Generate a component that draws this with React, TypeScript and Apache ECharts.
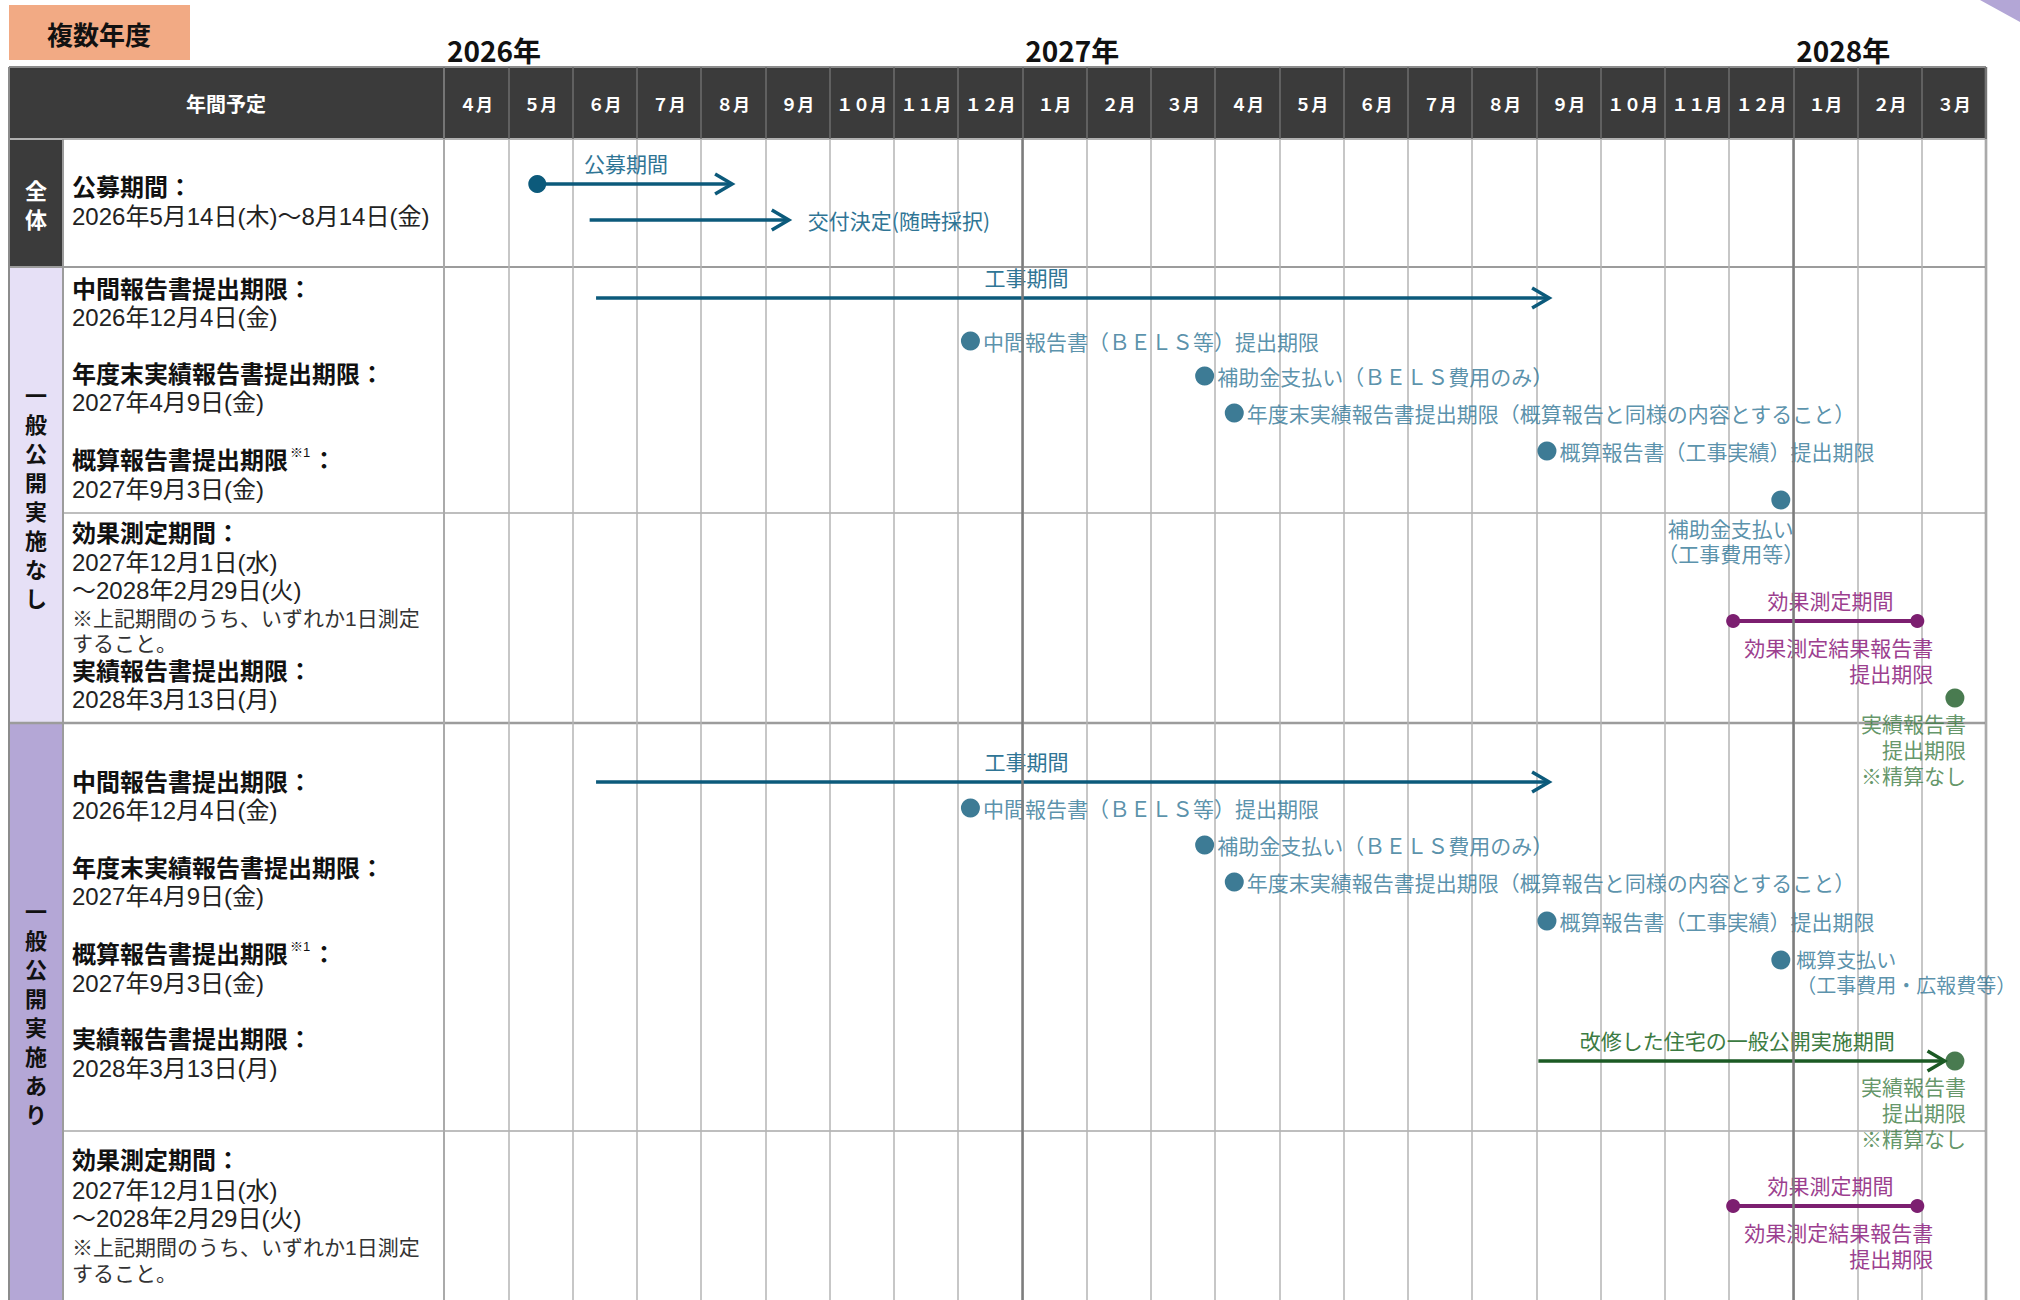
import React, { useEffect, useRef } from "react";
import * as echarts from "echarts";

const FONT = '"Noto Sans CJK JP", "Noto Sans", sans-serif';
const NOTE_FONT = '"Liberation Sans", "Noto Sans CJK JP", sans-serif';

// ---------------- data ----------------
const MONTH_LABELS = [
  "４月", "５月", "６月", "７月", "８月", "９月", "１０月", "１１月", "１２月",
  "１月", "２月", "３月", "４月", "５月", "６月", "７月", "８月", "９月", "１０月", "１１月", "１２月",
  "１月", "２月", "３月",
];
const YEAR_LABELS = ["2026年", "2027年", "2028年"];
const YEAR_STARTS = ["2026-04-01", "2027-01-01", "2028-01-01"];

// lane = vertical position in the schedule area (px below the header)
const TEAL_SPANS = [
  { text: "公募期間", start: "2026-05-15", end: "2026-08-16", lane: 45, head: "dot", label: "above", labelAt: "2026-06-26" },
  { text: "交付決定(随時採択)", start: "2026-06-09", end: "2026-09-12", lane: 81, head: "none", label: "after", labelAt: "" },
  { text: "工事期間", start: "2026-06-12", end: "2027-09-07", lane: 159, head: "none", label: "above", labelAt: "2027-01-03" },
  { text: "工事期間", start: "2026-06-12", end: "2027-09-07", lane: 643, head: "none", label: "above", labelAt: "2027-01-03" },
];
const PURPLE_SPANS = [
  { text: "効果測定期間", note: "効果測定結果報告書\n提出期限", start: "2027-12-03", end: "2028-02-28", lane: 482, labelAt: "2028-01-19" },
  { text: "効果測定期間", note: "効果測定結果報告書\n提出期限", start: "2027-12-03", end: "2028-02-28", lane: 1067, labelAt: "2028-01-19" },
];
const GREEN_SPANS = [
  { text: "改修した住宅の一般公開実施期間", start: "2027-09-02", end: "2028-03-12", lane: 922, labelAt: "2027-12-05" },
];
const TEAL_POINTS = [
  { text: "中間報告書（ＢＥＬＳ等）提出期限", date: "2026-12-07", lane: 202, mode: "right" },
  { text: "補助金支払い（ＢＥＬＳ費用のみ）", date: "2027-03-27", lane: 237, mode: "right" },
  { text: "年度末実績報告書提出期限（概算報告と同様の内容とすること）", date: "2027-04-10", lane: 274, mode: "right" },
  { text: "概算報告書（工事実績）提出期限", date: "2027-09-06", lane: 312, mode: "right" },
  { text: "補助金支払い\n（工事費用等）", date: "2027-12-26", lane: 361, mode: "below" },
  { text: "中間報告書（ＢＥＬＳ等）提出期限", date: "2026-12-07", lane: 669, mode: "right" },
  { text: "補助金支払い（ＢＥＬＳ費用のみ）", date: "2027-03-27", lane: 706, mode: "right" },
  { text: "年度末実績報告書提出期限（概算報告と同様の内容とすること）", date: "2027-04-10", lane: 743, mode: "right" },
  { text: "概算報告書（工事実績）提出期限", date: "2027-09-06", lane: 782, mode: "right" },
  { text: "概算支払い\n（工事費用・広報費等）", date: "2027-12-26", lane: 821, mode: "rightTop" },
];
const GREEN_POINTS = [
  { text: "実績報告書\n提出期限\n※精算なし", date: "2028-03-17", lane: 559, mode: "belowRight" },
  { text: "実績報告書\n提出期限\n※精算なし", date: "2028-03-17", lane: 922, mode: "belowRight" },
];

const NOTES_OVERALL = ["公募期間：", "2026年5月14日(木)～8月14日(金)"];
const NOTES_NONE_A = ["中間報告書提出期限：", "2026年12月4日(金)", "年度末実績報告書提出期限：", "2027年4月9日(金)", "概算報告書提出期限※1：", "2027年9月3日(金)"];
const NOTES_NONE_B = ["効果測定期間：", "2027年12月1日(水)", "～2028年2月29日(火)", "※上記期間のうち、いずれか1日測定", "すること。", "実績報告書提出期限：", "2028年3月13日(月)"];
const NOTES_WITH_A = ["中間報告書提出期限：", "2026年12月4日(金)", "年度末実績報告書提出期限：", "2027年4月9日(金)", "概算報告書提出期限※1：", "2027年9月3日(金)", "実績報告書提出期限：", "2028年3月13日(月)"];
const NOTES_WITH_B = ["効果測定期間：", "2027年12月1日(水)", "～2028年2月29日(火)", "※上記期間のうち、いずれか1日測定", "すること。"];

// ---------------- helpers ----------------
function mi(d: string): number {
  const [y, m, dd] = d.split("-").map(Number);
  const days = new Date(y, m, 0).getDate();
  return (y - 2026) * 12 + (m - 4) + (dd - 1) / days;
}

const TEAL = "#0c5a7b", TEAL_TXT = "#2f7595";
const PURPLE = "#7c1f70", PURPLE_TXT = "#9c3f8f";
const GREEN = "#1b5a24", GREEN_TXT = "#3c7b42";

function txtStyle(text: string, size: number, color: string, weight: string, align: string, valign: string, lineHeight?: number, family = FONT) {
  return {
    text, fill: color, fontSize: size, fontWeight: weight, fontFamily: family,
    align, verticalAlign: valign, textAlign: align, textVerticalAlign: valign,
    lineHeight: lineHeight || size,
  };
}

function gText(x: number, y: number, text: string, size: number, color: string, weight = "normal", align = "left", valign = "middle", lineHeight?: number, family = FONT) {
  return { type: "text", x, y, silent: true, style: txtStyle(text, size, color, weight, align, valign, lineHeight, family) };
}
function gRect(x: number, y: number, w: number, h: number, fill: string) {
  return { type: "rect", silent: true, shape: { x, y, width: w, height: h }, style: { fill } };
}
function gLine(x1: number, y1: number, x2: number, y2: number, stroke: string, w: number) {
  return { type: "line", silent: true, shape: { x1, y1, x2, y2 }, style: { stroke, lineWidth: w } };
}

function noteElements(lines: string[], ys: number[]) {
  const out: any[] = [];
  const X = 72;
  lines.forEach((t, i) => {
    const y = ys[i];
    if (t.includes("※1")) {
      const [a, b] = t.split("※1");
      const w = a.length * 24;
      out.push(gText(X, y, a, 24, "#111", "bold", "left", "middle", 24, NOTE_FONT));
      out.push(gText(X + w + 2, y - 8, "※1", 13, "#111", "normal", "left", "middle", 13, NOTE_FONT));
      out.push(gText(X + w + 24, y, b, 24, "#111", "bold", "left", "middle", 24, NOTE_FONT));
    } else if (t.endsWith("：")) {
      out.push(gText(X, y, t, 24, "#111", "bold", "left", "middle", 24, NOTE_FONT));
    } else if (t.startsWith("※") || t === "すること。") {
      out.push(gText(X, y, t, 21, "#333", "normal", "left", "middle", 21, NOTE_FONT));
    } else {
      out.push(gText(X, y, t, 24, "#222", "normal", "left", "middle", 24, NOTE_FONT));
    }
  });
  return out;
}

function spanRenderer(spans: any[], color: string, textColor: string, kind: string) {
  return (params: any, api: any) => {
    const s = spans[params.dataIndex];
    const a = api.coord([api.value(0), api.value(2)]);
    const b = api.coord([api.value(1), api.value(2)]);
    const children: any[] = [];
    const lw = kind === "purple" ? 4 : 3.5;
    children.push({ type: "line", shape: { x1: a[0], y1: a[1], x2: b[0] - (kind === "purple" ? 0 : 1), y2: b[1] }, style: { stroke: color, lineWidth: lw } });
    if (kind === "purple") {
      children.push({ type: "circle", shape: { cx: a[0], cy: a[1], r: 7 }, style: { fill: color } });
      children.push({ type: "circle", shape: { cx: b[0], cy: b[1], r: 7 }, style: { fill: color } });
    } else {
      children.push({
        type: "polyline",
        shape: { points: [[b[0] - 17, b[1] - 10], [b[0], b[1]], [b[0] - 17, b[1] + 10]] },
        style: { stroke: color, lineWidth: lw, fill: "none", lineJoin: "miter" },
      });
      if (s.head === "dot") {
        children.push({ type: "circle", shape: { cx: a[0], cy: a[1], r: 9 }, style: { fill: color } });
      }
    }
    if (s.label === "after") {
      children.push({ type: "text", x: b[0] + 19, y: b[1], style: txtStyle(s.text, 21, textColor, "normal", "left", "middle") });
    } else {
      const lx = api.coord([mi(s.labelAt), api.value(2)])[0];
      children.push({ type: "text", x: lx, y: a[1] - 21, style: txtStyle(s.text, 21, textColor, "normal", "center", "middle") });
    }
    if (s.note) {
      children.push({ type: "text", x: b[0] + 16, y: b[1] + 14, style: txtStyle(s.note, 21, textColor, "normal", "right", "top", 26, NOTE_FONT) });
    }
    return { type: "group", children };
  };
}

function pointLabel(p: any, color: string) {
  const base: any = { show: true, formatter: p.text, color, fontSize: 21, fontFamily: FONT, lineHeight: 26 };
  switch (p.mode) {
    case "rightTop":
      return { ...base, fontFamily: NOTE_FONT, position: "right", distance: 6, fontSize: 20, lineHeight: 25, verticalAlign: "top", offset: [0, -12] };
    case "below":
      return { ...base, fontFamily: NOTE_FONT, position: "bottom", distance: 7, align: "center", lineHeight: 25, offset: [-50, 0] };
    case "belowRight":
      return { ...base, fontFamily: NOTE_FONT, position: "bottom", distance: 4, align: "right", offset: [11, 0] };
    default:
      return { ...base, position: "right", distance: 3, lineHeight: 21 };
  }
}

function buildOption() {
  const graphic: any[] = [];
  // top-left tag
  graphic.push(gRect(9, 5, 181, 55, "#f2aa84"));
  graphic.push(gText(99, 33, "複数年度", 26, "#111", "bold", "center", "middle"));
  // corner decoration
  graphic.push({ type: "polygon", silent: true, shape: { points: [[1980, 0], [2020, 0], [2020, 22]] }, style: { fill: "#b3a6d6" } });
  // header
  graphic.push(gRect(9, 67, 1977, 72, "#3b3b3b"));
  graphic.push(gText(226, 103, "年間予定", 20, "#ffffff", "bold", "center", "middle"));
  // group column backgrounds
  graphic.push(gRect(9, 139, 54, 128, "#3b3b3b"));
  graphic.push(gRect(9, 267, 54, 456, "#e6e0f6"));
  graphic.push(gRect(9, 723, 54, 577, "#b4a7d6"));
  graphic.push(gText(36, 203, "全\n体", 22, "#ffffff", "bold", "center", "middle", 29));
  graphic.push(gText(36, 495, "一\n般\n公\n開\n実\n施\nな\nし", 22, "#111", "bold", "center", "middle", 29));
  graphic.push(gText(36, 1011, "一\n般\n公\n開\n実\n施\nあ\nり", 22, "#111", "bold", "center", "middle", 29));
  // table lines
  graphic.push(gLine(9, 67, 1986, 67, "#8c8c8c", 2));
  graphic.push(gLine(9, 139, 1986, 139, "#b0b0b0", 2));
  graphic.push(gLine(9, 267, 1986, 267, "#9c9c9c", 2));
  graphic.push(gLine(63, 513, 1986, 513, "#a8a8a8", 1.5));
  graphic.push(gLine(9, 723, 1986, 723, "#9c9c9c", 2.5));
  graphic.push(gLine(63, 1131, 1986, 1131, "#a8a8a8", 1.5));
  graphic.push(gLine(9, 67, 9, 1300, "#8c8c8c", 2));
  graphic.push(gLine(1986, 67, 1986, 1300, "#8c8c8c", 2.5));
  graphic.push(gLine(63, 139, 63, 1300, "#9c9c9c", 2));
  graphic.push(gLine(444, 67, 444, 1300, "#8c8c8c", 2));
  // notes
  graphic.push(...noteElements(NOTES_OVERALL, [187, 216]));
  graphic.push(...noteElements(NOTES_NONE_A, [289, 317, 374, 402, 460, 489]));
  graphic.push(...noteElements(NOTES_NONE_B, [533, 562, 590, 618, 643, 671, 699]));
  graphic.push(...noteElements(NOTES_WITH_A, [782, 810, 868, 896, 954, 983, 1039, 1068]));
  graphic.push(...noteElements(NOTES_WITH_B, [1160, 1190, 1218, 1247, 1273]));

  const spanData = (arr: any[]) => arr.map((s) => [mi(s.start), mi(s.end), s.lane]);

  return {
    animation: false,
    backgroundColor: "#ffffff",
    grid: { left: 444, top: 139, width: 1542, height: 1161, containLabel: false },
    xAxis: [
      {
        type: "value", min: 0, max: 24, interval: 1, position: "bottom",
        axisLine: { show: false }, axisTick: { show: false }, axisLabel: { show: false },
        splitLine: { show: true, lineStyle: { color: "#b4b4b4", width: 1.5 } },
      },
      {
        type: "category", data: MONTH_LABELS, position: "top", boundaryGap: true, z: 10,
        axisLine: { show: false },
        axisTick: { show: true, length: 72, interval: 0, lineStyle: { color: "#6e6e6e", width: 1.5 } },
        axisLabel: { color: "#ffffff", fontWeight: "bold", fontSize: 17, fontFamily: FONT, margin: 36, verticalAlign: "middle", interval: 0 },
        splitLine: { show: false },
      },
    ],
    yAxis: { type: "value", min: 0, max: 1161, inverse: true, show: false },
    graphic: { elements: graphic },
    series: [
      {
        type: "custom", name: "years", coordinateSystem: "cartesian2d", xAxisIndex: 0, yAxisIndex: 0, clip: false, z: 5,
        data: YEAR_STARTS.map((d) => [mi(d), 0]),
        renderItem: (params: any, api: any) => {
          const p = api.coord([api.value(0), api.value(1)]);
          return { type: "text", x: p[0] + 3, y: p[1] - 89, style: txtStyle(YEAR_LABELS[params.dataIndex], 28, "#111", "bold", "left", "middle") };
        },
      },
      {
        type: "custom", name: "teal spans", coordinateSystem: "cartesian2d", xAxisIndex: 0, yAxisIndex: 0, clip: false, z: 3,
        encode: { x: [0, 1], y: 2 }, data: spanData(TEAL_SPANS),
        renderItem: spanRenderer(TEAL_SPANS, TEAL, TEAL_TXT, "teal"),
      },
      {
        type: "custom", name: "purple spans", coordinateSystem: "cartesian2d", xAxisIndex: 0, yAxisIndex: 0, clip: false, z: 3,
        encode: { x: [0, 1], y: 2 }, data: spanData(PURPLE_SPANS),
        renderItem: spanRenderer(PURPLE_SPANS, PURPLE, PURPLE_TXT, "purple"),
      },
      {
        type: "custom", name: "green spans", coordinateSystem: "cartesian2d", xAxisIndex: 0, yAxisIndex: 0, clip: false, z: 3,
        encode: { x: [0, 1], y: 2 }, data: spanData(GREEN_SPANS),
        renderItem: spanRenderer(GREEN_SPANS, GREEN, GREEN_TXT, "green"),
      },
      {
        type: "scatter", name: "teal points", xAxisIndex: 0, yAxisIndex: 0, z: 4,
        symbol: "circle", symbolSize: 19,
        data: TEAL_POINTS.map((p) => ({ value: [mi(p.date), p.lane], itemStyle: { color: TEAL }, label: pointLabel(p, TEAL_TXT) })),
        markLine: {
          silent: true, symbol: ["none", "none"], label: { show: false },
          lineStyle: { color: "#7d7d7d", width: 2.5, type: "solid" },
          data: [{ xAxis: mi(YEAR_STARTS[1]) }, { xAxis: mi(YEAR_STARTS[2]) }],
        },
      },
      {
        type: "scatter", name: "green points", xAxisIndex: 0, yAxisIndex: 0, z: 4,
        symbol: "circle", symbolSize: 19,
        data: GREEN_POINTS.map((p) => ({ value: [mi(p.date), p.lane], itemStyle: { color: GREEN }, label: pointLabel(p, GREEN_TXT) })),
      },
    ],
  };
}

export default function App() {
  const ref = useRef<HTMLDivElement>(null);
  useEffect(() => {
    document.body.style.margin = "0";
    const chart = echarts.init(ref.current as HTMLDivElement, null, { renderer: "svg" });
    chart.setOption(buildOption() as any);
    return () => chart.dispose();
  }, []);
  return <div ref={ref} style={{ width: 2020, height: 1300 }} />;
}
